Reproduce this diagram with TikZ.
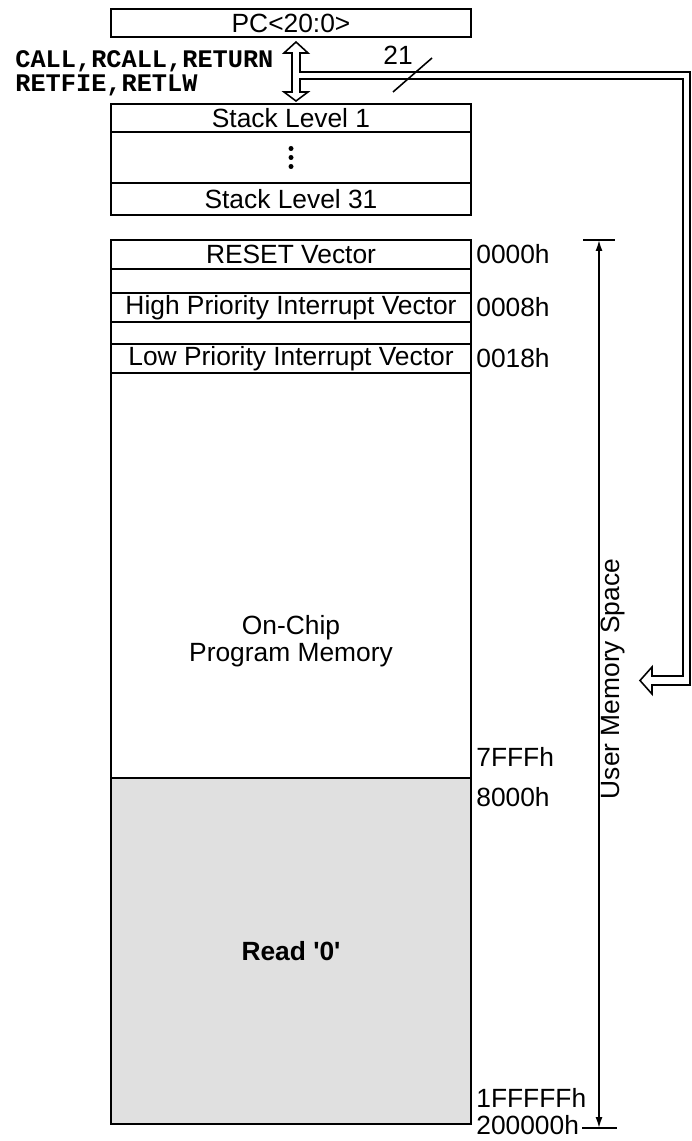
\documentclass[tikz,border=0pt]{standalone}
\usepackage{fontspec}
\setsansfont{Liberation Sans}
\setmonofont{Liberation Mono}
\usepackage{tikz}
\usepackage{xcolor}
\usetikzlibrary{arrows.meta,positioning,calc}
\definecolor{MapBlack}{HTML}{000000}
\definecolor{MapWhite}{HTML}{ffffff}
\definecolor{MapGray}{HTML}{E0E0E0}
\newcommand\memfont{\sffamily\fontsize{15}{15.5}\selectfont}
\newcommand\opfont{\ttfamily\bfseries\fontsize{14.4}{13.5}\selectfont}
\tikzset{
    % Base row style
    rownode/.style={
        draw=MapBlack,
        fill=MapWhite,
        line width=0.9pt,
        minimum width=7.2cm,
        inner sep=0pt,
        align=center,
        font=\memfont
    },
    % Vector row style
    vectornode/.style={
        rownode,
        minimum height=0.58cm
    },
    % Read-as-zero region
    zeronode/.style={
        rownode,
        fill=MapGray,
        font=\memfont\bfseries
    },
    % Address label
    addrnode/.style={
        anchor=west,
        inner sep=0pt,
        font=\memfont
    },
    % Opcode label
    opnode/.style={
        anchor=west,
        inner sep=0pt,
        font=\opfont
    },
    % Range arrow
    rangearrow/.style={
        {Latex[length=0.22cm,width=0.14cm]}-{Latex[length=0.22cm,width=0.14cm]},
        line width=0.9pt,
        draw=MapBlack
    },
    % Bus outline
    busline/.style={
        line width=0.9pt,
        draw=MapBlack,
        line join=miter
    },
    % Plain line
    plainline/.style={
        line width=0.9pt,
        draw=MapBlack
    }
}

\begin{document}
\begin{tikzpicture}[x=0.02cm, y=-0.02cm]
        \useasboundingbox (0,0) rectangle (691,1141);

        % Program counter
        \node[rownode, minimum height=0.56cm] (pc) at (291,23) {PC<20:0>};

        % Stack
        \node[rownode, minimum height=0.56cm] (stack1) at (291,118) {Stack Level 1};
        \node[rownode, minimum height=1.02cm] (stackdots) at (291,157.5) {};
        \foreach \d in {-9,0,9}
            \fill[MapBlack] ($(stackdots.center)+(0,\d)$) circle (0.05cm);
        \node[rownode, minimum height=0.64cm] (stack31) at (291,199) {Stack Level 31};

        % Opcodes
        \node[opnode] (ops1) at (15,61) {CALL,RCALL,RETURN};
        \node[opnode] (ops2) at (15,85) {RETFIE,RETLW};

        % Memory map
        \node[vectornode] (reset) at (291,254.5) {RESET Vector};
        \node[rownode, minimum height=0.48cm] (gap1) at (291,281) {};
        \node[vectornode] (high) at (291,307.5) {High Priority Interrupt Vector};
        \node[rownode, minimum height=0.44cm] (gap2) at (291,333) {};
        \node[vectornode] (low) at (291,358.5) {Low Priority Interrupt Vector};
        \node[rownode, minimum height=8.1cm] (onchip) at (291,575.5) {};
        \node[font=\memfont, align=center] (onchiptext) at (291,641) {On-Chip\\Program Memory};
        \node[zeronode, minimum height=6.92cm] (read0) at (291,951) {Read \textquotesingle 0\textquotesingle};

        % Addresses
        \node[addrnode] (a0000) at (476,254) {0000h};
        \node[addrnode] (a0008) at (476,307) {0008h};
        \node[addrnode] (a0018) at (476,358) {0018h};
        \node[addrnode] (a7fff) at (476,757) {7FFFh};
        \node[addrnode] (a8000) at (476,797) {8000h};
        \node[addrnode] (a1fffff) at (476,1098) {1FFFFFh};
        \node[addrnode] (a200000) at (476,1125) {200000h};

        % User memory space
        \coordinate (umtop) at (599,240);
        \coordinate (umbot) at (599,1128);
        \draw[plainline] ($(umtop)+(-16,0)$) -- ($(umtop)+(16,0)$);
        \draw[plainline] ($(umbot)+(-17,0)$) -- ($(umbot)+(18,0)$);
        \draw[rangearrow] (umtop) -- (umbot);
        \node[rotate=90, font=\memfont] (umlabel) at (613,679) {User Memory Space};

        % Stack arrow and PC bus
        \coordinate (dtop) at (296,42);
        \coordinate (dbot) at (296,101);
        \coordinate (busend) at (640,680.5);
        \draw[busline] (dtop) -- ++(12,11) -- ++(-8,0) |- (690,72) |- ($(busend)+(12,4.5)$)
            -- ++(0,9) -- (busend) -- ++(12,-13.5) -- ++(0,9) -| (683,79)
            -| ($(dbot)+(4,-9)$) -- ++(8,0) -- (dbot) -- ++(-12,-9) -- ++(8,0)
            |- ($(dtop)+(-12,11)$) -- cycle;

        % Bus width
        \coordinate (slashlow) at (393,92);
        \coordinate (slashhigh) at (432,58);
        \draw[plainline] (slashlow) -- (slashhigh);
        \node[font=\memfont] (buswidth) at (398,55) {21};
    \end{tikzpicture}
\end{document}
